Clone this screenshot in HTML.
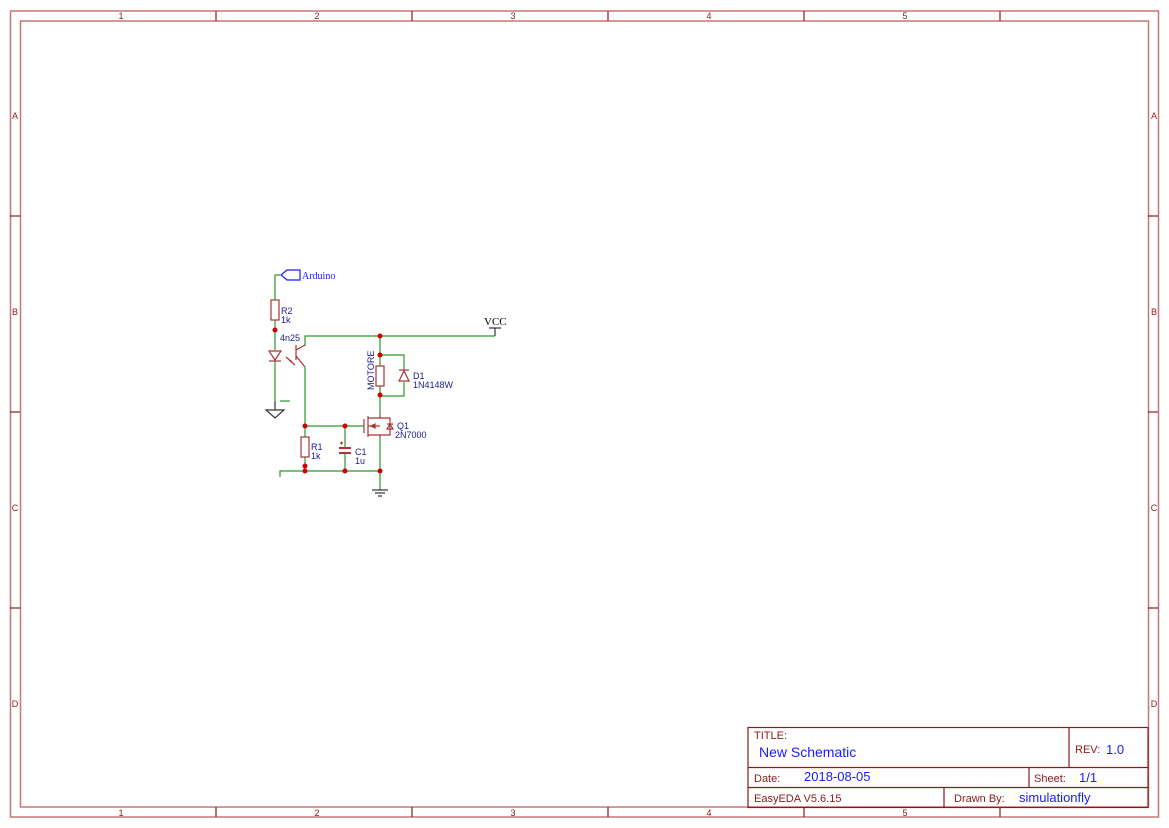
<!DOCTYPE html>
<html><head><meta charset="utf-8"><style>
html,body{margin:0;padding:0;background:#fff;}
svg{display:block;}
.f{font-family:"Liberation Sans","DejaVu Sans",sans-serif;}
</style></head><body>
<svg width="1169" height="828" viewBox="0 0 1169 828" xmlns="http://www.w3.org/2000/svg">
<g fill="none" stroke="#c57777" stroke-width="1.5">
<rect x="10.5" y="11" width="1148" height="806"/>
<rect x="20.5" y="21" width="1128" height="786"/>
</g>
<g stroke="#8b1a1a" stroke-width="1.2">
<line x1="216" y1="11" x2="216" y2="21"/><line x1="412" y1="11" x2="412" y2="21"/><line x1="608" y1="11" x2="608" y2="21"/><line x1="804" y1="11" x2="804" y2="21"/><line x1="1000" y1="11" x2="1000" y2="21"/>
<line x1="216" y1="807" x2="216" y2="817"/><line x1="412" y1="807" x2="412" y2="817"/><line x1="608" y1="807" x2="608" y2="817"/><line x1="804" y1="807" x2="804" y2="817"/><line x1="1000" y1="807" x2="1000" y2="817"/>
<line x1="10" y1="216" x2="20" y2="216"/><line x1="10" y1="412" x2="20" y2="412"/><line x1="10" y1="608" x2="20" y2="608"/>
<line x1="1148" y1="216" x2="1158" y2="216"/><line x1="1148" y1="412" x2="1158" y2="412"/><line x1="1148" y1="608" x2="1158" y2="608"/>
</g>
<g class="f" fill="#8b1a1a" font-size="9" text-anchor="middle">
<text x="121" y="19">1</text><text x="317" y="19">2</text><text x="513" y="19">3</text><text x="709" y="19">4</text><text x="905" y="19">5</text>
<text x="121" y="816">1</text><text x="317" y="816">2</text><text x="513" y="816">3</text><text x="709" y="816">4</text><text x="905" y="816">5</text>
<text x="15" y="119">A</text><text x="15" y="315">B</text><text x="15" y="511">C</text><text x="15" y="707">D</text>
<text x="1154" y="119">A</text><text x="1154" y="315">B</text><text x="1154" y="511">C</text><text x="1154" y="707">D</text>
</g>
<g fill="none" stroke="#8b1a1a" stroke-width="1.2">
<rect x="748" y="727.5" width="400" height="80"/>
<line x1="748" y1="767.5" x2="1148" y2="767.5"/>
<line x1="748" y1="787.5" x2="1148" y2="787.5"/>
<line x1="1069" y1="727.5" x2="1069" y2="767.5"/>
<line x1="1029" y1="767.5" x2="1029" y2="787.5"/>
<line x1="944" y1="787.5" x2="944" y2="807.5"/>
</g>
<g class="f">
<text x="754" y="739" font-size="11" fill="#8b1a1a">TITLE:</text>
<text x="759" y="757" font-size="14" fill="#1a1aff">New Schematic</text>
<text x="1075" y="753" font-size="11" fill="#8b1a1a">REV:</text>
<text x="1106" y="754" font-size="13" fill="#1a1aff">1.0</text>
<text x="754" y="782" font-size="11" fill="#8b1a1a">Date:</text>
<text x="804" y="781" font-size="13" fill="#1a1aff">2018-08-05</text>
<text x="1034" y="782" font-size="11" fill="#8b1a1a">Sheet:</text>
<text x="1079" y="782" font-size="13" fill="#1a1aff">1/1</text>
<text x="754" y="802" font-size="11" fill="#8b1a1a">EasyEDA V5.6.15</text>
<text x="954" y="802" font-size="11" fill="#8b1a1a">Drawn By:</text>
<text x="1019" y="802" font-size="13" fill="#1a1aff">simulationfly</text>
</g>
<g fill="none" stroke="#2a9a2a" stroke-width="1.2">
<polyline points="280,275 275,275 275,300"/>
<line x1="275" y1="320" x2="275" y2="350"/>
<line x1="275" y1="361" x2="275" y2="401"/>
<line x1="280" y1="401" x2="290" y2="401"/>
<polyline points="305,346 305,336 495,336"/>
<line x1="305" y1="367" x2="305" y2="437"/>
<line x1="305" y1="426" x2="364" y2="426"/>
<line x1="345" y1="426" x2="345" y2="447"/>
<line x1="345" y1="454" x2="345" y2="471"/>
<line x1="305" y1="457" x2="305" y2="471"/>
<polyline points="280,477 280,471 380,471"/>
<line x1="380" y1="336" x2="380" y2="366"/>
<polyline points="380,355 404,355 404,370"/>
<polyline points="404,382 404,396 380,396"/>
<line x1="380" y1="386" x2="380" y2="415"/>
<line x1="380" y1="437" x2="380" y2="490"/>
</g>
<g fill="none" stroke="#a33" stroke-width="1.2">
<polygon points="281,275 287,270 300,270 300,280 287,280" stroke="#1a1aff"/>
<rect x="271" y="300" width="8" height="20"/>
<polygon points="269,351 281,351 275,360"/>
<line x1="269" y1="361" x2="281" y2="361"/>
<line x1="275" y1="401" x2="275" y2="410" stroke="#333"/>
<polygon points="266,410 284,410 275,418" stroke="#333"/>
<line x1="296" y1="345" x2="296" y2="360"/>
<line x1="296" y1="350" x2="305" y2="345"/>
<line x1="296" y1="356" x2="305" y2="367"/>
<line x1="286" y1="357" x2="292" y2="362"/><line x1="289" y1="360" x2="295" y2="365"/>
<rect x="301" y="437" width="8" height="20"/>
<line x1="339" y1="448" x2="351" y2="448" stroke-width="2"/>
<line x1="339" y1="453" x2="351" y2="453" stroke-width="2"/>
<line x1="340" y1="443" x2="343" y2="443"/><line x1="341.5" y1="441.5" x2="341.5" y2="444.5"/>
<rect x="376" y="366" width="8" height="20"/>
<polygon points="399,381 409,381 404,371"/>
<line x1="399" y1="370" x2="409" y2="370"/>
<line x1="364" y1="419" x2="364" y2="433"/>
<line x1="368" y1="416" x2="368" y2="437"/>
<polyline points="368,418 380,418 380,415"/>
<polyline points="368,435 380,435 380,437"/>
<line x1="368" y1="426" x2="380" y2="426"/>
<polygon points="371,426 375,424 375,428" fill="#a33"/>
<polyline points="380,418 390,418 390,435 380,435"/>
<polygon points="387,429 393,429 390,424"/>
<line x1="387" y1="424" x2="393" y2="424"/>
<line x1="495" y1="328" x2="495" y2="336" stroke="#333"/>
<line x1="489" y1="328" x2="501" y2="328" stroke="#333"/>
<line x1="372" y1="490" x2="388" y2="490" stroke="#333"/>
<line x1="375" y1="493" x2="385" y2="493" stroke="#333"/>
<line x1="378" y1="496" x2="382" y2="496" stroke="#333"/>
</g>
<g fill="#c00">
<circle cx="275" cy="330" r="2.5"/><circle cx="380" cy="336" r="2.5"/><circle cx="380" cy="355" r="2.5"/><circle cx="380" cy="395" r="2.5"/>
<circle cx="305" cy="426" r="2.5"/><circle cx="345" cy="426" r="2.5"/><circle cx="305" cy="466" r="2.5"/><circle cx="305" cy="471" r="2.5"/>
<circle cx="345" cy="471" r="2.5"/><circle cx="380" cy="471" r="2.5"/>
</g>
<g class="f" fill="#1a1a8b" font-size="9">
<text x="302" y="279" font-family="Liberation Serif,serif" font-size="10" fill="#1a1aff">Arduino</text>
<text x="281" y="314">R2</text><text x="281" y="323">1k</text>
<text x="280" y="341">4n25</text>
<text x="484" y="325" font-family="Liberation Serif,serif" font-size="11" fill="#000">VCC</text>
<text x="413" y="379">D1</text><text x="413" y="388">1N4148W</text>
<text x="374" y="390" transform="rotate(-90 374 390)">MOTORE</text>
<text x="397" y="429">Q1</text><text x="395" y="438">2N7000</text>
<text x="311" y="450">R1</text><text x="311" y="459">1k</text>
<text x="355" y="455">C1</text><text x="355" y="464">1u</text>
</g>
</svg>
</body></html>
